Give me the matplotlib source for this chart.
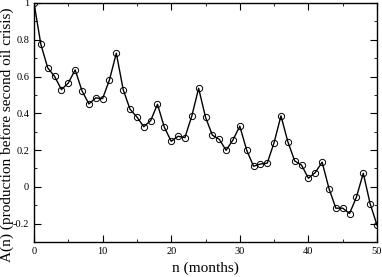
import matplotlib
matplotlib.use("Agg")
import matplotlib.pyplot as plt
from matplotlib.ticker import MultipleLocator

months = list(range(51))
production = [1.0, 0.775, 0.647, 0.601, 0.529, 0.565, 0.636, 0.522, 0.451, 0.484,
              0.48, 0.582, 0.727, 0.529, 0.422, 0.38, 0.327, 0.36, 0.449, 0.324,
              0.248, 0.275, 0.268, 0.385, 0.536, 0.379, 0.281, 0.259, 0.199, 0.255,
              0.33, 0.2, 0.112, 0.124, 0.129, 0.241, 0.386, 0.246, 0.141, 0.118,
              0.047, 0.078, 0.134, -0.009, -0.116, -0.116, -0.145, -0.056, 0.074, -0.092,
              -0.208]

plt.rcParams["font.family"] = ["Liberation Serif", "DejaVu Serif"]

fig = plt.figure(figsize=(3.82, 2.77), dpi=100)
ax = fig.add_axes([34 / 382, 35 / 277, 343 / 382, 239 / 277])

ax.plot(months, production, color="black", linewidth=1.0,
        marker="o", markersize=4.5, markerfacecolor="none",
        markeredgecolor="black", markeredgewidth=0.7)

ax.set_xlim(0, 50)
ax.set_ylim(-0.3, 1.0)
ax.xaxis.set_major_locator(MultipleLocator(10))
ax.xaxis.set_minor_locator(MultipleLocator(5))
ax.yaxis.set_major_locator(MultipleLocator(0.2))
ax.yaxis.set_minor_locator(MultipleLocator(0.1))
ax.yaxis.set_major_formatter(plt.FuncFormatter(lambda v, p: "%g" % round(v, 2)))
ax.tick_params(which="both", direction="in", top=True, right=True, labelsize=7.5)
ax.tick_params(which="major", length=5)
ax.tick_params(which="minor", length=2.5)
for s in ax.spines.values():
    s.set_linewidth(1.0)

ax.set_xlabel("n (months)", fontsize=11)
ax.set_ylabel("A(n) (production before second oil crisis)", fontsize=11)
ax.yaxis.set_label_coords(-0.057, 0.45)

fig.savefig("out.png", dpi=100)
